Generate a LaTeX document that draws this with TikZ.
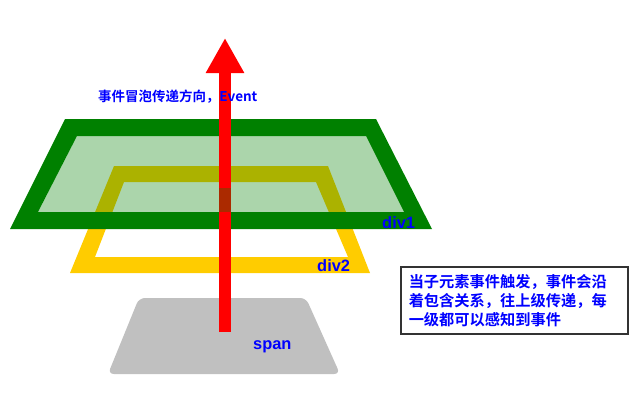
\documentclass[tikz,border=0pt]{standalone}
\usepackage{fontspec}
\setmainfont{Liberation Sans}
\newfontfamily\cjk[BoldFont={Noto Sans CJK SC Bold}]{Noto Sans CJK SC}
\usetikzlibrary{arrows.meta}

\definecolor{divgreen}{HTML}{008000}
\definecolor{divyellow}{HTML}{FFCC00}
\definecolor{spangray}{HTML}{C0C0C0}
\definecolor{notegray}{HTML}{333333}
\def\px{0.03cm}

\begin{document}
\begin{tikzpicture}[x=\px,y=-\px]
    \tikzstyle{layer}=[even odd rule]
    \tikzstyle{layer label}=[anchor=base west,inner sep=0pt,text=blue,font=\bfseries\fontsize{14}{16}\selectfont]
    \tikzstyle{cjk label}=[anchor=west,inner sep=0pt,text=blue,font=\cjk\bfseries\fontsize{11.5}{14}\selectfont]
    \tikzstyle{note}=[draw=notegray,line width=1.3pt,fill=white,text width=6.33cm,inner xsep=0.24cm,minimum height=2.01cm,align=left,text=blue,font=\cjk\bfseries\fontsize{13}{16.2}\selectfont]
    \tikzstyle{bubble}=[red,line width=0.36cm,-{Triangle[width=1.08cm,length=1.05cm]}]

    \useasboundingbox (0,0) rectangle (642,406);

    % Draw the span element
    \fill[spangray,rounded corners=5pt] (139,298) -- (306,298) -- (340,374) -- (108,374) -- cycle;

    % Draw the div2 frame
    \fill[divyellow,layer] (114,166) -- (328,166) -- (370,273) -- (70,273) -- cycle
        (124,182) -- (316,182) -- (348,257) -- (95,257) -- cycle;

    % Draw the div1 frame and its see-through inside
    \fill[divgreen,layer] (65,119) -- (376,119) -- (432,229) -- (10,229) -- cycle
        (77,136) -- (366,136) -- (404,212) -- (38,212) -- cycle;
    \fill[divgreen,opacity=0.33] (77,136) -- (366,136) -- (404,212) -- (38,212) -- cycle;

    % Bubbling arrow
    \coordinate (span-start) at (225,332);
    \coordinate (top) at (225,38);
    \draw[bubble] (span-start) -- (top);
    \fill[divgreen,opacity=0.33] (219,188) rectangle (231,212);

    % Annotate the layers
    \node[layer label] (div1) at (382,228) {div1};
    \node[layer label] (div2) at (317,271) {div2};
    \node[layer label] (span) at (253,349) {span};
    \node[cjk label] (direction) at (98,97) {事件冒泡传递方向，Event};

    \node[note,anchor=north west] (explain) at (400,266)
        {当子元素事件触发，事件会沿\\着包含关系，往上级传递，每\\一级都可以感知到事件};
\end{tikzpicture}
\end{document}
